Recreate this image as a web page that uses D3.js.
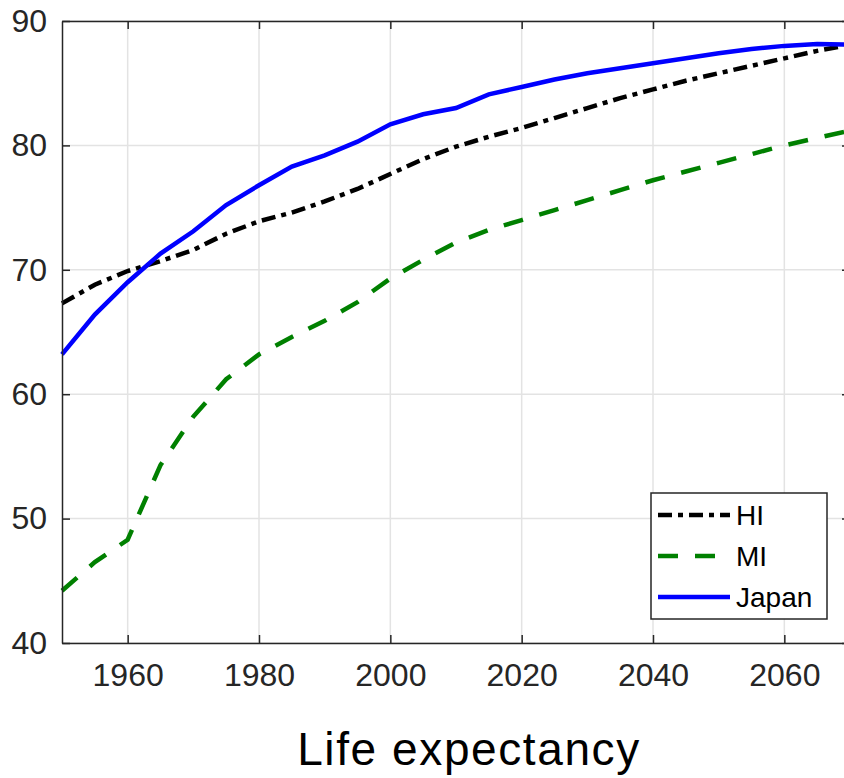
<!DOCTYPE html>
<html lang="en">
<head>
	<meta charset="UTF-8">
	<title>Life expectancy</title>
	<style>
		* { margin: 0; padding: 0; }
		body { background: #fff; }
		svg { display: block; font-family: "Liberation Sans", Arial, sans-serif; }
	</style>
</head>
<body>
	<script src="https://cdn.jsdelivr.net/npm/d3@7"></script>
	<script>
		// data, 5-year steps
		var years = [1950, 1955, 1960, 1965, 1970, 1975, 1980, 1985, 1990, 1995, 2000, 2005, 2010,
			2015, 2020, 2025, 2030, 2035, 2040, 2045, 2050, 2055, 2060, 2065, 2070];
		var hiValues = [67.3, 68.8, 69.9, 70.7, 71.6, 72.9, 73.9, 74.6, 75.5, 76.5, 77.7, 78.9, 79.9,
			80.7, 81.4, 82.2, 83.0, 83.8, 84.5, 85.2, 85.8, 86.4, 87.0, 87.6, 88.1];
		var miValues = [44.2, 46.5, 48.3, 54.3, 58.2, 61.2, 63.2, 64.6, 65.9, 67.4, 69.3, 70.8, 72.2,
			73.2, 74.0, 74.8, 75.6, 76.4, 77.2, 77.9, 78.6, 79.3, 80.0, 80.6, 81.2];
		var japanValues = [63.2, 66.4, 69.0, 71.3, 73.1, 75.2, 76.8, 78.3, 79.2, 80.3, 81.7, 82.5, 83.0,
			84.1, 84.7, 85.3, 85.8, 86.2, 86.6, 87.0, 87.4, 87.75, 88.0, 88.15, 88.1];
		var seriesNames = ['HI', 'MI', 'Japan'];
		var xTicks = [1960, 1980, 2000, 2020, 2040, 2060];
		var yTicks = [40, 50, 60, 70, 80, 90];

		var width = 844, height = 778;
		var padding = { top: 21, left: 62, right: 850, bottom: 643 };

		var svg = d3.select('body').append('svg').attr('width', width).attr('height', height);

		var xScale = d3.scaleLinear().domain([1950, 2070]).range([padding.left, padding.right]);
		var yScale = d3.scaleLinear().domain([40, 90]).range([padding.bottom, padding.top]);

		var axisColor = '#262626';

		// grid
		svg.append('g').selectAll('line').data(xTicks).enter().append('line')
			.attr('x1', function (d) { return xScale(d); }).attr('x2', function (d) { return xScale(d); })
			.attr('y1', padding.top).attr('y2', padding.bottom)
			.attr('stroke', '#e3e3e3').attr('stroke-width', 1.5);
		svg.append('g').selectAll('line').data(yTicks).enter().append('line')
			.attr('y1', function (d) { return yScale(d); }).attr('y2', function (d) { return yScale(d); })
			.attr('x1', padding.left).attr('x2', padding.right)
			.attr('stroke', '#e3e3e3').attr('stroke-width', 1.5);

		// lines
		var styles = [
			{ values: hiValues, color: '#000', dash: '14,6,5,6' },
			{ values: miValues, color: '#008000', dash: '20,17' },
			{ values: japanValues, color: '#0000ff', dash: null }
		];
		var line = d3.line()
			.x(function (d, i) { return xScale(years[i]); })
			.y(function (d) { return yScale(d); });

		styles.forEach(function (s) {
			svg.append('path')
				.datum(s.values)
				.attr('d', line)
				.attr('fill', 'none')
				.attr('stroke', s.color)
				.attr('stroke-width', 4.5)
				.attr('stroke-dasharray', s.dash);
		});

		// axes, ticks pointing inward (matlab style)
		function styleAxis(g) {
			g.select('.domain').attr('stroke', axisColor).attr('stroke-width', 1.5);
			g.selectAll('.tick line').attr('stroke', axisColor).attr('stroke-width', 1.5);
			g.selectAll('.tick text').attr('fill', axisColor).style('font-size', '32px')
				.style('font-family', '"Liberation Sans", Arial, sans-serif');
		}

		svg.append('g')
			.attr('transform', 'translate(0,' + padding.bottom + ')')
			.call(d3.axisBottom(xScale).tickValues(xTicks).tickFormat(d3.format('d'))
				.tickSizeInner(-8).tickSizeOuter(0).tickPadding(20))
			.call(styleAxis);
		svg.append('g')
			.attr('transform', 'translate(0,' + padding.top + ')')
			.call(d3.axisTop(xScale).tickValues(xTicks).tickFormat('').tickSizeInner(-8).tickSizeOuter(0))
			.call(styleAxis);
		svg.append('g')
			.attr('transform', 'translate(' + padding.left + ',0)')
			.call(d3.axisLeft(yScale).tickValues(yTicks).tickSizeInner(-8).tickSizeOuter(0).tickPadding(15))
			.call(styleAxis);
		svg.append('g')
			.attr('transform', 'translate(' + padding.right + ',0)')
			.call(d3.axisRight(yScale).tickValues(yTicks).tickFormat('').tickSizeInner(-8).tickSizeOuter(0))
			.call(styleAxis);

		// legend
		var legend = svg.append('g').attr('transform', 'translate(651,493)');
		legend.append('rect').attr('width', 176).attr('height', 126)
			.attr('fill', '#fff').attr('stroke', axisColor).attr('stroke-width', 1.5);
		styles.forEach(function (s, i) {
			var y = 22 + i * 41;
			legend.append('line')
				.attr('x1', 7).attr('x2', 79).attr('y1', y).attr('y2', y)
				.attr('stroke', s.color).attr('stroke-width', 4.5)
				.attr('stroke-dasharray', s.dash);
			legend.append('text')
				.attr('x', 85).attr('y', y)
				.attr('dy', '0.36em')
				.style('font-size', '28px')
				.attr('fill', '#000')
				.text(seriesNames[i]);
		});

		// title underneath
		svg.append('text')
			.attr('x', 469).attr('y', 765)
			.attr('text-anchor', 'middle')
			.style('font-size', '46px')
			.style('letter-spacing', '1.6px')
			.attr('fill', '#000')
			.text('Life expectancy');
	</script>
</body>
</html>
